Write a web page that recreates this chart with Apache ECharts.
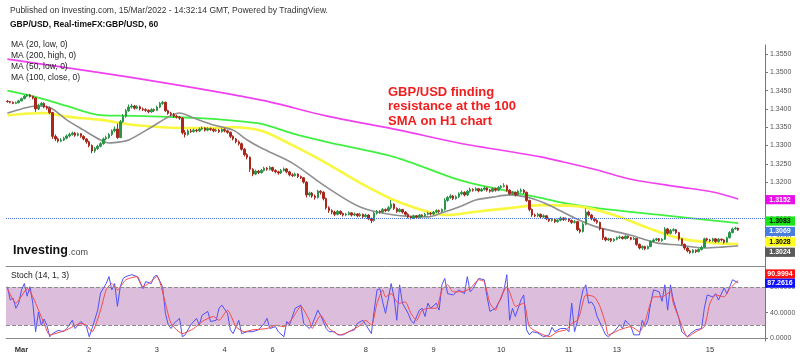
<!DOCTYPE html>
<html><head><meta charset="utf-8">
<script src="https://cdn.jsdelivr.net/npm/echarts@6/dist/echarts.min.js"></script>
<style>html,body{margin:0;padding:0;background:#fff;}#c{width:800px;height:357px;}</style>
</head><body><div id="c"></div>
<script>
// ---------- data ----------
const sessionLabels = ['', 'Mar', '2', '3', '4', '6', '8', '9', '10', '11', '13', '15'];
const sessionBars = [5, 24, 24, 24, 17, 33, 24, 24, 24, 17, 33, 11];
const priceTicks = [1.3000,1.3050,1.3100,1.3150,1.3200,1.3250,1.3300,1.3350,1.3400,1.3450,1.3500,1.3550];
const stochTicks = [0, 40, 80];

const opens = [1.3421,1.3420,1.3418,1.3415,1.3417,
1.3422,1.3428,1.3435,1.3438,1.3434,1.3430,1.3400,1.3410,1.3415,1.3405,1.3402,1.3390,1.3325,1.3318,1.3312,1.3315,1.3320,1.3326,1.3330,1.3334,1.3328,1.3332,1.3325,1.3318,
1.3310,1.3300,1.3285,1.3292,1.3298,1.3305,1.3318,1.3322,1.3330,1.3340,1.3345,1.3322,1.3365,1.3380,1.3395,1.3405,1.3408,1.3402,1.3406,1.3400,1.3398,1.3396,1.3392,1.3398,
1.3396,1.3405,1.3415,1.3418,1.3395,1.3388,1.3385,1.3380,1.3378,1.3375,1.3335,1.3330,1.3340,1.3338,1.3342,1.3340,1.3345,1.3348,1.3342,1.3346,1.3344,1.3340,1.3342,1.3338,
1.3344,1.3340,1.3336,1.3325,1.3318,1.3310,1.3305,1.3290,1.3275,1.3268,1.3235,1.3222,1.3230,1.3226,1.3232,1.3238,1.3235,
1.3240,1.3232,1.3228,1.3225,1.3232,1.3236,1.3228,1.3220,1.3218,1.3222,1.3215,1.3212,1.3200,1.3165,1.3170,1.3162,1.3158,1.3175,1.3172,1.3155,1.3130,1.3122,1.3118,1.3112,1.3120,1.3114,1.3110,1.3112,1.3116,1.3110,1.3113,1.3108,1.3112,
1.3106,1.3110,1.3100,1.3095,1.3115,1.3120,1.3118,1.3125,1.3122,1.3130,1.3140,1.3128,1.3120,1.3125,1.3118,1.3112,1.3105,1.3102,1.3108,1.3104,1.3110,1.3108,1.3112,1.3115,
1.3113,1.3118,1.3122,1.3120,1.3125,1.3150,1.3158,1.3162,1.3155,1.3160,1.3168,1.3172,1.3165,1.3175,1.3180,1.3178,1.3182,1.3176,1.3180,1.3184,1.3178,1.3175,1.3182,1.3178,
1.3185,1.3188,1.3190,1.3178,1.3168,1.3172,1.3165,1.3175,1.3178,1.3172,1.3150,1.3125,1.3110,1.3108,1.3112,1.3105,1.3108,1.3100,1.3095,1.3098,1.3092,1.3096,1.3102,1.3098,
1.3100,1.3095,1.3090,1.3092,1.3070,1.3065,1.3085,1.3118,1.3110,1.3100,1.3095,1.3090,1.3072,1.3048,1.3042,1.3045,1.3040,
1.3044,1.3048,1.3050,1.3046,1.3052,1.3048,1.3044,1.3046,1.3030,1.3020,1.3024,1.3018,1.3024,1.3038,1.3042,1.3045,1.3040,1.3044,1.3072,1.3060,1.3068,1.3070,1.3062,1.3045,1.3030,1.3020,1.3012,1.3008,1.3014,1.3010,1.3016,1.3022,1.3045,
1.3042,1.3040,1.3045,1.3038,1.3044,1.3042,1.3036,1.3048,1.3062,1.3072,1.3074];

const closes = [1.3420,1.3418,1.3415,1.3417,1.3422,
1.3428,1.3435,1.3438,1.3434,1.3430,1.3400,1.3410,1.3415,1.3405,1.3402,1.3390,1.3325,1.3318,1.3312,1.3315,1.3320,1.3326,1.3330,1.3334,1.3328,1.3332,1.3325,1.3318,1.3310,
1.3300,1.3285,1.3292,1.3298,1.3305,1.3318,1.3322,1.3330,1.3340,1.3345,1.3322,1.3365,1.3380,1.3395,1.3405,1.3408,1.3402,1.3406,1.3400,1.3398,1.3396,1.3392,1.3398,1.3396,
1.3405,1.3415,1.3418,1.3395,1.3388,1.3385,1.3380,1.3378,1.3375,1.3335,1.3330,1.3340,1.3338,1.3342,1.3340,1.3345,1.3348,1.3342,1.3346,1.3344,1.3340,1.3342,1.3338,1.3344,
1.3340,1.3336,1.3325,1.3318,1.3310,1.3305,1.3290,1.3275,1.3268,1.3235,1.3222,1.3230,1.3226,1.3232,1.3238,1.3235,1.3240,
1.3232,1.3228,1.3225,1.3232,1.3236,1.3228,1.3220,1.3218,1.3222,1.3215,1.3212,1.3200,1.3165,1.3170,1.3162,1.3158,1.3175,1.3172,1.3155,1.3130,1.3122,1.3118,1.3112,1.3120,1.3114,1.3110,1.3112,1.3116,1.3110,1.3113,1.3108,1.3112,1.3106,
1.3110,1.3100,1.3095,1.3115,1.3120,1.3118,1.3125,1.3122,1.3130,1.3140,1.3128,1.3120,1.3125,1.3118,1.3112,1.3105,1.3102,1.3108,1.3104,1.3110,1.3108,1.3112,1.3115,1.3113,
1.3118,1.3122,1.3120,1.3125,1.3150,1.3158,1.3162,1.3155,1.3160,1.3168,1.3172,1.3165,1.3175,1.3180,1.3178,1.3182,1.3176,1.3180,1.3184,1.3178,1.3175,1.3182,1.3178,1.3185,
1.3188,1.3190,1.3178,1.3168,1.3172,1.3165,1.3175,1.3178,1.3172,1.3150,1.3125,1.3110,1.3108,1.3112,1.3105,1.3108,1.3100,1.3095,1.3098,1.3092,1.3096,1.3102,1.3098,1.3100,
1.3095,1.3090,1.3092,1.3070,1.3065,1.3085,1.3118,1.3110,1.3100,1.3095,1.3090,1.3072,1.3048,1.3042,1.3045,1.3040,1.3044,
1.3048,1.3050,1.3046,1.3052,1.3048,1.3044,1.3046,1.3030,1.3020,1.3024,1.3018,1.3024,1.3038,1.3042,1.3045,1.3040,1.3044,1.3072,1.3060,1.3068,1.3070,1.3062,1.3045,1.3030,1.3020,1.3012,1.3008,1.3014,1.3010,1.3016,1.3022,1.3045,1.3042,
1.3040,1.3045,1.3038,1.3044,1.3042,1.3036,1.3048,1.3062,1.3072,1.3074,1.3069];

const highs = [1.3424,1.3422,1.3420,1.3420,1.3425,
1.3431,1.3438,1.3441,1.3441,1.3436,1.3432,1.3414,1.3419,1.3418,1.3409,1.3406,1.3392,1.3330,1.3322,1.3320,1.3324,1.3330,1.3335,1.3338,1.3337,1.3336,1.3334,1.3328,1.3320,
1.3313,1.3303,1.3296,1.3302,1.3309,1.3322,1.3327,1.3334,1.3344,1.3352,1.3360,1.3370,1.3386,1.3400,1.3412,1.3414,1.3411,1.3410,1.3409,1.3404,1.3402,1.3399,1.3402,1.3401,
1.3409,1.3419,1.3422,1.3420,1.3398,1.3392,1.3389,1.3384,1.3381,1.3377,1.3342,1.3344,1.3345,1.3346,1.3345,1.3349,1.3352,1.3350,1.3350,1.3349,1.3347,1.3346,1.3345,1.3347,
1.3347,1.3343,1.3338,1.3328,1.3321,1.3314,1.3308,1.3293,1.3279,1.3270,1.3238,1.3234,1.3233,1.3236,1.3242,1.3241,1.3244,
1.3242,1.3235,1.3231,1.3236,1.3240,1.3238,1.3231,1.3224,1.3226,1.3224,1.3218,1.3214,1.3202,1.3174,1.3173,1.3166,1.3179,1.3178,1.3175,1.3158,1.3134,1.3126,1.3122,1.3124,1.3123,1.3117,1.3116,1.3120,1.3118,1.3117,1.3115,1.3116,1.3114,
1.3114,1.3112,1.3103,1.3119,1.3124,1.3123,1.3129,1.3128,1.3135,1.3151,1.3142,1.3131,1.3129,1.3127,1.3121,1.3115,1.3108,1.3111,1.3110,1.3113,1.3112,1.3116,1.3119,1.3118,
1.3121,1.3126,1.3125,1.3128,1.3156,1.3162,1.3167,1.3165,1.3164,1.3172,1.3177,1.3175,1.3179,1.3185,1.3183,1.3186,1.3184,1.3184,1.3188,1.3186,1.3181,1.3186,1.3185,1.3189,
1.3192,1.3197,1.3193,1.3180,1.3176,1.3174,1.3179,1.3183,1.3181,1.3174,1.3152,1.3128,1.3114,1.3116,1.3114,1.3112,1.3110,1.3103,1.3102,1.3100,1.3100,1.3106,1.3104,1.3104,
1.3102,1.3098,1.3096,1.3094,1.3074,1.3090,1.3128,1.3122,1.3113,1.3104,1.3098,1.3092,1.3074,1.3051,1.3048,1.3047,1.3047,
1.3051,1.3054,1.3052,1.3055,1.3054,1.3050,1.3050,1.3047,1.3032,1.3027,1.3026,1.3027,1.3041,1.3046,1.3048,1.3047,1.3047,1.3077,1.3075,1.3072,1.3074,1.3072,1.3064,1.3047,1.3032,1.3023,1.3015,1.3017,1.3016,1.3019,1.3026,1.3048,1.3048,
1.3045,1.3048,1.3047,1.3047,1.3046,1.3044,1.3051,1.3066,1.3076,1.3078,1.3076];

const lows = [1.3417,1.3415,1.3413,1.3413,1.3415,
1.3420,1.3426,1.3432,1.3431,1.3426,1.3392,1.3397,1.3407,1.3402,1.3398,1.3386,1.3318,1.3312,1.3308,1.3309,1.3312,1.3317,1.3322,1.3327,1.3324,1.3325,1.3321,1.3314,1.3305,
1.3295,1.3279,1.3280,1.3288,1.3295,1.3302,1.3314,1.3318,1.3326,1.3336,1.3318,1.3320,1.3362,1.3376,1.3392,1.3401,1.3398,1.3399,1.3396,1.3394,1.3392,1.3388,1.3389,1.3392,
1.3394,1.3402,1.3411,1.3392,1.3384,1.3381,1.3376,1.3374,1.3370,1.3330,1.3322,1.3327,1.3334,1.3335,1.3336,1.3337,1.3342,1.3338,1.3339,1.3340,1.3336,1.3337,1.3334,1.3335,
1.3336,1.3332,1.3320,1.3314,1.3306,1.3300,1.3286,1.3270,1.3262,1.3228,1.3216,1.3219,1.3222,1.3223,1.3229,1.3231,1.3232,
1.3228,1.3224,1.3220,1.3222,1.3229,1.3224,1.3216,1.3214,1.3215,1.3211,1.3208,1.3196,1.3158,1.3160,1.3157,1.3152,1.3155,1.3166,1.3150,1.3125,1.3116,1.3112,1.3107,1.3109,1.3110,1.3106,1.3107,1.3109,1.3106,1.3107,1.3104,1.3105,1.3102,
1.3103,1.3096,1.3088,1.3092,1.3111,1.3114,1.3115,1.3118,1.3119,1.3126,1.3124,1.3116,1.3117,1.3114,1.3108,1.3101,1.3098,1.3099,1.3100,1.3101,1.3104,1.3105,1.3109,1.3109,
1.3110,1.3115,1.3116,1.3117,1.3122,1.3146,1.3154,1.3151,1.3152,1.3157,1.3164,1.3161,1.3162,1.3171,1.3174,1.3175,1.3172,1.3173,1.3177,1.3174,1.3171,1.3172,1.3174,1.3175,
1.3182,1.3185,1.3174,1.3164,1.3165,1.3161,1.3162,1.3171,1.3168,1.3146,1.3120,1.3105,1.3104,1.3104,1.3101,1.3102,1.3096,1.3091,1.3092,1.3088,1.3089,1.3093,1.3094,1.3095,
1.3091,1.3086,1.3087,1.3066,1.3060,1.3062,1.3082,1.3106,1.3096,1.3091,1.3086,1.3068,1.3042,1.3038,1.3039,1.3036,1.3037,
1.3041,1.3045,1.3043,1.3043,1.3045,1.3041,1.3042,1.3026,1.3016,1.3015,1.3014,1.3016,1.3022,1.3035,1.3039,1.3037,1.3037,1.3042,1.3056,1.3057,1.3065,1.3058,1.3040,1.3026,1.3015,1.3008,1.3004,1.3005,1.3006,1.3008,1.3013,1.3020,1.3038,
1.3036,1.3037,1.3034,1.3035,1.3038,1.3032,1.3034,1.3046,1.3060,1.3070,1.3067];

// moving averages: [bar index, value]
const ma200High = [[0,1.3536],[47,1.3482],[90,1.3424],[113,1.3381],[139,1.3342],[160,1.3307],[189,1.3269],[197,1.3255],[209,1.3233],[221,1.3208],[238,1.3187],[250,1.3173],[259,1.3154]];
const ma100Close = [[0,1.3450],[9,1.3435],[21,1.3408],[33,1.3383],[45,1.3381],[57,1.3378],[68,1.3375],[80,1.3368],[90,1.3359],[101,1.3333],[113,1.3310],[137,1.3269],[160,1.3206],[172,1.3184],[189,1.3157],[197,1.3143],[209,1.3129],[232,1.3110],[259,1.3088]];
const ma50Low = [[0,1.3383],[13,1.3389],[21,1.3379],[33,1.3370],[45,1.3356],[62,1.3348],[74,1.3348],[80,1.3350],[90,1.3340],[101,1.3301],[113,1.3252],[125,1.3198],[137,1.3151],[149,1.3119],[156,1.3110],[166,1.3119],[178,1.3129],[189,1.3137],[203,1.3133],[215,1.3110],[227,1.3075],[238,1.3047],[250,1.3034],[259,1.3031]];
const ma20Low = [[0,1.3389],[5,1.3400],[10,1.3408],[15,1.3404],[21,1.3370],[27,1.3342],[33,1.3315],[36,1.3307],[40,1.3310],[43,1.3315],[51,1.3350],[57,1.3378],[61,1.3389],[66,1.3375],[73,1.3356],[80,1.3342],[85,1.3315],[90,1.3293],[101,1.3252],[113,1.3187],[125,1.3132],[137,1.3110],[149,1.3105],[154,1.3116],[160,1.3132],[166,1.3151],[172,1.3159],[178,1.3165],[185,1.3157],[192,1.3137],[201,1.3102],[209,1.3077],[221,1.3055],[230,1.3034],[238,1.3028],[247,1.3020],[254,1.3023],[259,1.3026]];

const stochK = [[0,81],[1,60],[2,63],[3,47],[4,55],[5,76],[6,86],[7,66],[8,81],[9,55],[10,10],[11,41],[12,20],[13,30],[14,20],[15,2],[16,7],[18,12],[20,10],[21,15],[23,28],[24,15],[26,26],[28,18],[29,2],[30,15],[32,44],[33,71],[35,86],[36,97],[37,76],[38,86],[39,50],[40,81],[41,94],[42,97],[44,100],[46,97],[48,78],[49,89],[51,86],[52,97],[53,99],[55,81],[56,39],[57,21],[58,15],[59,23],[61,31],[62,2],[63,5],[65,21],[67,31],[68,21],[69,36],[71,42],[72,26],[74,28],[75,47],[76,52],[78,39],[79,13],[80,7],[82,28],[83,7],[85,10],[87,10],[89,13],[91,23],[92,31],[93,15],[95,18],[96,10],[98,2],[99,26],[100,21],[102,47],[104,52],[105,23],[107,15],[108,21],[110,44],[111,36],[113,15],[114,10],[116,10],[117,5],[119,5],[121,10],[123,13],[124,23],[126,28],[127,21],[129,7],[130,44],[131,76],[132,78],[133,57],[134,39],[136,86],[137,65],[138,28],[139,84],[140,55],[142,39],[143,28],[144,23],[146,44],[147,47],[148,34],[149,55],[150,47],[152,55],[153,44],[154,84],[155,94],[156,70],[158,68],[160,76],[162,70],[163,97],[164,73],[165,78],[167,94],[169,92],[170,65],[171,42],[173,47],[175,63],[176,76],[177,100],[178,28],[179,47],[180,34],[182,60],[183,68],[184,13],[185,5],[186,10],[188,8],[190,2],[192,5],[193,17],[194,10],[196,15],[198,15],[199,10],[200,55],[201,10],[202,26],[203,55],[204,76],[205,84],[206,55],[207,57],[208,50],[209,34],[211,15],[212,5],[213,2],[215,10],[217,21],[218,15],[219,28],[221,18],[222,5],[224,5],[225,28],[226,18],[227,28],[228,55],[229,76],[231,73],[232,58],[233,84],[234,44],[235,84],[236,60],[238,31],[239,10],[241,2],[242,7],[244,13],[246,15],[247,47],[248,68],[250,65],[251,70],[252,60],[254,79],[255,70],[257,92],[259,87.2616]];
const stochD = [[0,78],[3,55],[7,78],[13,23],[15,5],[21,13],[26,23],[28,20],[30,10],[33,44],[35,76],[37,86],[39,76],[42,92],[46,97],[48,81],[50,86],[53,97],[56,55],[58,23],[62,7],[66,15],[69,26],[73,34],[75,28],[78,44],[81,18],[84,10],[87,13],[92,15],[95,20],[98,18],[101,31],[104,50],[107,28],[108,15],[111,36],[114,15],[118,5],[121,10],[125,20],[127,28],[129,20],[131,55],[133,76],[134,65],[136,70],[138,57],[139,55],[141,57],[143,39],[145,28],[147,44],[150,47],[152,47],[154,76],[156,84],[158,73],[161,73],[164,78],[167,92],[169,89],[171,55],[173,44],[174,55],[177,81],[179,60],[180,50],[183,55],[185,18],[189,7],[192,2],[195,10],[198,13],[200,23],[202,28],[203,39],[205,68],[208,65],[210,50],[212,23],[213,5],[217,13],[221,18],[224,10],[226,26],[229,65],[232,65],[235,73],[236,55],[239,20],[241,2],[244,10],[247,18],[249,55],[251,68],[254,65],[256,78],[259,90.9994]];

const priceTagValues = [1.3152, 1.3083, 1.3069, 1.3028, 1.3024];
const stochTagValues = [90.9994, 87.2616];
const stochBand = [20, 80];

// ---------- style ----------
const FONT = '"Liberation Sans", Arial, sans-serif';
const priceTagStyle = [
  {bg:'#e812e8', fg:'#ffffff'}, {bg:'#18e418', fg:'#000000'}, {bg:'#4a7ede', fg:'#ffffff'},
  {bg:'#ffff20', fg:'#000000'}, {bg:'#5a5a5a', fg:'#ffffff'}];
const stochTagStyle = [{bg:'#ff1010', fg:'#ffffff'}, {bg:'#1010ff', fg:'#ffffff'}];
const rightPadBars = 9;

// categories
const categories = [];
sessionLabels.forEach((lab, s) => {
  for (let k = 0; k < sessionBars[s]; k++) categories.push(lab + '|' + k + '|' + s);
});
for (let k = 0; k < rightPadBars; k++) categories.push('pad|' + k + '|x');
const isSessionStart = (idx, val) => {
  const p = String(val).split('|');
  return p[1] === '0' && p[0] !== '' && p[0] !== 'pad';
};

const candleData = opens.map((o, i) => [o, closes[i], lows[i], highs[i]]);
const lastClose = closes[closes.length - 1];

const chart = echarts.init(document.getElementById('c'), null, {renderer: 'canvas'});

const maLine = (name, data, color, width) => ({
  type: 'line', name, xAxisIndex: 0, yAxisIndex: 0, data, smooth: 0.3,
  showSymbol: false, silent: true, lineStyle: {color, width}, z: 2
});

const option = {
  animation: false,
  backgroundColor: '#ffffff',
  textStyle: {fontFamily: FONT},
  grid: [
    {left: 6, right: 35, top: 45, height: 221},
    {left: 6, right: 35, top: 266, height: 75}
  ],
  xAxis: [
    {type: 'category', gridIndex: 0, data: categories, boundaryGap: true,
     axisLine: {show: true, lineStyle: {color: '#8a8a8a', width: 1}},
     axisTick: {show: false}, axisLabel: {show: false}, splitLine: {show: false}},
    {type: 'category', gridIndex: 1, data: categories, boundaryGap: true,
     axisLine: {show: true, lineStyle: {color: '#8a8a8a', width: 1}},
     axisTick: {show: false},
     axisLabel: {show: true, interval: isSessionStart, fontSize: 7.5, color: '#333', margin: 5, fontFamily: FONT,
       formatter: v => { const l = String(v).split('|')[0]; return l === 'Mar' ? '{b|Mar}' : l; },
       rich: {b: {fontWeight: 'bold', fontSize: 7.5, fontFamily: FONT, color: '#333'}}},
     splitLine: {show: false}}
  ],
  yAxis: [
    {type: 'value', gridIndex: 0, position: 'right', min: 1.29708, max: 1.35746, scale: true,
     axisLine: {show: true, lineStyle: {color: '#777', width: 1}},
     axisTick: {show: true, length: 3, customValues: priceTicks, lineStyle: {color: '#777'}},
     axisLabel: {customValues: priceTicks, formatter: v => v.toFixed(4), fontSize: 7, color: '#555', margin: 5, fontFamily: FONT},
     splitLine: {show: false}},
    {type: 'value', gridIndex: 1, position: 'right', min: -4.7, max: 113.7,
     axisLine: {show: true, lineStyle: {color: '#777', width: 1}},
     axisTick: {show: true, length: 3, customValues: stochTicks, lineStyle: {color: '#777'}},
     axisLabel: {customValues: stochTicks, formatter: v => v.toFixed(4), fontSize: 7, color: '#555', margin: 5, fontFamily: FONT},
     splitLine: {show: false}}
  ],
  series: [
    maLine('MA200', ma200High, '#f040f0', 1.6),
    maLine('MA100', ma100Close, '#40f040', 1.8),
    maLine('MA50', ma50Low, '#f8f840', 2.6),
    maLine('MA20', ma20Low, '#8f8f8f', 1.6),
    {type: 'candlestick', name: 'GBPUSD', xAxisIndex: 0, yAxisIndex: 0, data: candleData, barWidth: 2, z: 3, silent: true,
     itemStyle: {color: '#2a9448', color0: '#a8281e', borderColor: '#2a9448', borderColor0: '#a8281e', borderWidth: 1},
     markLine: {silent: true, symbol: 'none', label: {show: false},
       lineStyle: {type: 'dotted', color: '#4a6fd8', width: 1},
       data: [{yAxis: lastClose}]}},
    {type: 'line', name: 'band', xAxisIndex: 1, yAxisIndex: 1, data: [], silent: true, z: 1,
     markArea: {silent: true, itemStyle: {color: '#dcbedc'}, data: [[{yAxis: stochBand[0]}, {yAxis: stochBand[1]}]]},
     markLine: {silent: true, symbol: 'none', label: {show: false},
       lineStyle: {type: 'dashed', color: '#8a8a8a', width: 1},
       data: [{yAxis: stochBand[0]}, {yAxis: stochBand[1]}]}},
    {type: 'line', name: '%K', xAxisIndex: 1, yAxisIndex: 1, data: stochK, showSymbol: false, silent: true,
     lineStyle: {color: '#5050f8', width: 1}, z: 3},
    {type: 'line', name: '%D', xAxisIndex: 1, yAxisIndex: 1, data: stochD, showSymbol: false, silent: true, smooth: 0.2,
     lineStyle: {color: '#f84848', width: 1}, z: 4}
  ]
};
chart.setOption(option);

// ---------- tags & texts ----------
function layoutTags(ys, gap) {
  let groups = ys.map((y, i) => ({items: [{y, i}]}));
  let changed = true;
  const top = g => g.items.reduce((a, b) => a + b.y, 0) / g.items.length - (g.items.length - 1) * gap / 2;
  while (changed) {
    changed = false;
    for (let k = 1; k < groups.length; k++) {
      const a = groups[k - 1], b = groups[k];
      if (top(b) < top(a) + a.items.length * gap - 1e-6) {
        a.items = a.items.concat(b.items);
        groups.splice(k, 1);
        changed = true;
        break;
      }
    }
  }
  const out = [];
  groups.forEach(g => { const t = top(g); g.items.forEach((it, k) => { out[it.i] = t + k * gap; }); });
  return out;
}

const graphics = [];
function addTag(cy, text, st) {
  graphics.push({type: 'rect', shape: {x: 765, y: cy - 4.6, width: 30, height: 9.2}, style: {fill: st.bg}, z: 100, silent: true});
  graphics.push({type: 'text', x: 780, y: cy, z: 101, silent: true,
    style: {text, fill: st.fg, font: 'bold 7px ' + FONT, align: 'center', verticalAlign: 'middle'}});
}
const pY = priceTagValues.map(v => chart.convertToPixel({yAxisIndex: 0}, v));
layoutTags(pY, 10.4).forEach((cy, i) => addTag(cy, priceTagValues[i].toFixed(4), priceTagStyle[i]));
const sY = stochTagValues.map(v => chart.convertToPixel({yAxisIndex: 1}, v));
layoutTags(sY, 9.2).forEach((cy, i) => addTag(cy - 3, stochTagValues[i].toFixed(4), stochTagStyle[i]));

function addText(x, y, text, font, fill) {
  graphics.push({type: 'text', x, y, z: 50, silent: true,
    style: {text, font, fill, align: 'left', verticalAlign: 'middle'}});
}
addText(10, 11, 'Published on Investing.com, 15/Mar/2022 - 14:32:14 GMT, Powered by TradingView.', '8.5px ' + FONT, '#333');
addText(10, 25, 'GBP/USD, Real-timeFX:GBP/USD, 60', 'bold 8.5px ' + FONT, '#111');
['MA (20, low, 0)', 'MA (200, high, 0)', 'MA (50, low, 0)', 'MA (100, close, 0)'].forEach((t, k) => {
  addText(11, 44.3 + k * 11, t, '8.5px ' + FONT, '#222');
});
addText(11, 276, 'Stoch (14, 1, 3)', '8.5px ' + FONT, '#222');
graphics.push({type: 'text', x: 388, y: 85, z: 50, silent: true,
  style: {text: 'GBP/USD finding\nresistance at the 100\nSMA on H1 chart', font: 'bold 13px ' + FONT,
    fill: '#f01e1e', align: 'left', verticalAlign: 'top', lineHeight: 14.4}});
graphics.push({type: 'text', x: 13, y: 257.5, z: 50, silent: true,
  style: {text: 'Investing', font: 'bold 12.5px ' + FONT, fill: '#111', align: 'left', verticalAlign: 'bottom'}});
graphics.push({type: 'text', x: 68.5, y: 257, z: 50, silent: true,
  style: {text: '.com', font: '9px ' + FONT, fill: '#444', align: 'left', verticalAlign: 'bottom'}});

chart.setOption({graphic: graphics});
</script>
</body></html>
